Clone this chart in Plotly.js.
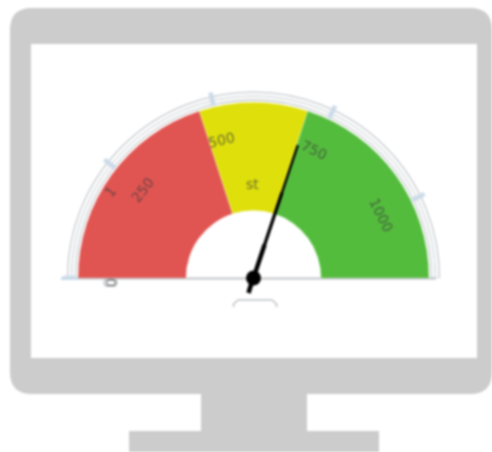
<!DOCTYPE html>
<html><head><meta charset="utf-8">
<script src="https://cdn.plot.ly/plotly-3.0.1.min.js"></script>
<style>html,body{margin:0;padding:0;background:#fff;overflow:hidden}#g{width:492px;height:452px;filter:blur(0.8px)}</style>
</head><body><div id="g"></div>
<script>
// Data
var axisMax = 1170;
var bandStarts = [0, 468, 702];
var bandEnds = [468, 702, 1170];
var bandColors = ['#e05552', '#dfe00b', '#54bc3d'];
var tickValues = [0, 250, 500, 750, 1000];
var tickLabels = ['0', '250', '500', '750', '1000'];
var needleValue = 705;
var gaugeLabel = 'st';

var W = 492, H = 452, cx = 253.5, cy = 278, R = 200;
var rIn = 67.5, rOut = 175.5, rLabel = 142;
function deg(v){ return v * 180 / axisMax; }
function px(x){ return x / W; }
function py(y){ return 1 - y / H; }
function polarX(r, t){ return px(cx - r * Math.cos(t * Math.PI / 180)); }
function polarY(r, t){ return py(cy - r * Math.sin(t * Math.PI / 180)); }
function mid(i){ return deg((bandStarts[i] + bandEnds[i]) / 2); }

var traces = [];
// colored bands
traces.push({type:'barpolar', subplot:'polar',
  theta: bandStarts.map(function(_, i){ return mid(i); }),
  width: bandStarts.map(function(s, i){ return deg(bandEnds[i] - s); }),
  base: bandStarts.map(function(){ return rIn; }),
  r: bandStarts.map(function(){ return rOut - rIn; }),
  marker:{color:bandColors, line:{color:'rgba(255,255,255,0.5)', width:0.5}},
  hoverinfo:'skip', showlegend:false});
// outer sketch outlines
traces.push({type:'barpolar', subplot:'polar', theta:[90], width:[180], base:[178], r:[8],
  marker:{color:'rgba(255,255,255,0)', line:{color:'#c6cacd', width:1.3}},
  hoverinfo:'skip', showlegend:false});
traces.push({type:'barpolar', subplot:'polar', theta:[90], width:[180], base:[181.5], r:[1],
  marker:{color:'rgba(255,255,255,0)', line:{color:'#dcdfe1', width:1}},
  hoverinfo:'skip', showlegend:false});
// tick marks
var tickTheta = [], tickR = [];
tickValues.forEach(function(v){ tickTheta.push(deg(v), deg(v), null); tickR.push(rOut + 1, rOut + 15, null); });
traces.push({type:'scatterpolar', subplot:'polar', mode:'lines', theta:tickTheta, r:tickR, cliponaxis:false,
  line:{color:'#cbdbe9', width:4.5}, hoverinfo:'skip', showlegend:false});
// needle, thicker toward the hub, with a short tail behind it
var t = deg(needleValue);
[[140,2.4],[90,3.2],[35,4.4]].forEach(function(n){
  traces.push({type:'scatterpolar', subplot:'polar', mode:'lines', theta:[t, t], r:[0, n[0]], cliponaxis:false,
    line:{color:'#000', width:n[1]}, hoverinfo:'skip', showlegend:false});
});
traces.push({type:'scatterpolar', subplot:'polar', mode:'markers', theta:[t], r:[0], cliponaxis:false,
  marker:{color:'#000', size:15}, hoverinfo:'skip', showlegend:false});

function rect(x0, y0, x1, y1, color){
  return {type:'rect', xref:'paper', yref:'paper', x0:px(x0), x1:px(x1), y0:py(y0), y1:py(y1),
    fillcolor:color, line:{width:0}, layer:'below'};
}
function P(x, y){ return px(x) + ' ' + py(y); }
var shapes = [];
// monitor body with rounded corners
shapes.push({type:'path', xref:'paper', yref:'paper', layer:'below', fillcolor:'#cccccc', line:{width:0},
  path:'M'+P(32,8)+' L'+P(470,8)+' Q'+P(492,8)+' '+P(492,30)+' L'+P(492,372)+' Q'+P(492,394)+' '+P(470,394)+
       ' L'+P(32,394)+' Q'+P(10,394)+' '+P(10,372)+' L'+P(10,30)+' Q'+P(10,8)+' '+P(32,8)+' Z'});
shapes.push(rect(31, 44, 477, 358, '#ffffff'));
shapes.push(rect(201, 394, 307, 432, '#cccccc'));
shapes.push(rect(129, 431, 379, 452, '#cccccc'));
// baseline
shapes.push({type:'line', xref:'paper', yref:'paper', x0:px(61), x1:px(436), y0:py(278.5), y1:py(278.5),
  line:{color:'#bfc3c7', width:2}, layer:'below'});
shapes.push({type:'line', xref:'paper', yref:'paper', x0:px(61), x1:px(78), y0:py(278.5), y1:py(278.5),
  line:{color:'#cbdbe9', width:3}, layer:'above'});
// small outlines: label pill at 0, needle tail and value box at the bottom
shapes.push({type:'path', xref:'paper', yref:'paper', layer:'above', line:{color:'#b4b8bc', width:1.3},
  path:'M'+P(106,279)+' L'+P(115,279)+' Q'+P(119,282.5)+' '+P(115,286)+' L'+P(106,286)+' Q'+P(102,282.5)+' '+P(106,279)+' Z'});
shapes.push({type:'line', xref:'paper', yref:'paper', layer:'above', x0:px(253), y0:py(278), x1:px(248.5), y1:py(293),
  line:{color:'#000', width:4.5}});
shapes.push({type:'path', xref:'paper', yref:'paper', layer:'above', line:{color:'#bfc3c7', width:1.6},
  path:'M'+P(233.5,307)+' L'+P(233.5,304)+' L'+P(238,300)+' L'+P(272,300)+' L'+P(276.5,304)+' L'+P(276.5,307)});

var font = {family:'"DejaVu Sans", sans-serif', size:14, color:'rgba(60,60,60,0.7)'};
function ann(text, x, y, angle){
  return {text:text, xref:'paper', yref:'paper', x:x, y:y, xanchor:'center', yanchor:'middle',
    showarrow:false, textangle:angle, font:font};
}
var annotations = tickValues.map(function(v, i){
  var a = deg(v);
  if (v === 0) return ann(tickLabels[i], px(110.5), py(282.5), -90);
  return ann(tickLabels[i], polarX(rLabel, a), polarY(rLabel, a), a - 90);
});
annotations.push(ann('1', px(110), py(192), -50));
annotations.push(ann(gaugeLabel, px(252), py(184), 0));

Plotly.newPlot('g', traces, {
  width:W, height:H, margin:{l:0,r:0,t:0,b:0}, showlegend:false,
  paper_bgcolor:'#ffffff', plot_bgcolor:'rgba(0,0,0,0)',
  polar:{
    domain:{x:[px(cx-R), px(cx+R)], y:[py(cy), py(cy-R)]},
    sector:[0,180], bgcolor:'rgba(0,0,0,0)', barmode:'overlay', hole:0,
    radialaxis:{visible:false, range:[0,R]},
    angularaxis:{visible:false, rotation:180, direction:'clockwise', thetaunit:'degrees'}
  },
  shapes:shapes, annotations:annotations
}, {displayModeBar:false, staticPlot:true});
</script></body></html>
